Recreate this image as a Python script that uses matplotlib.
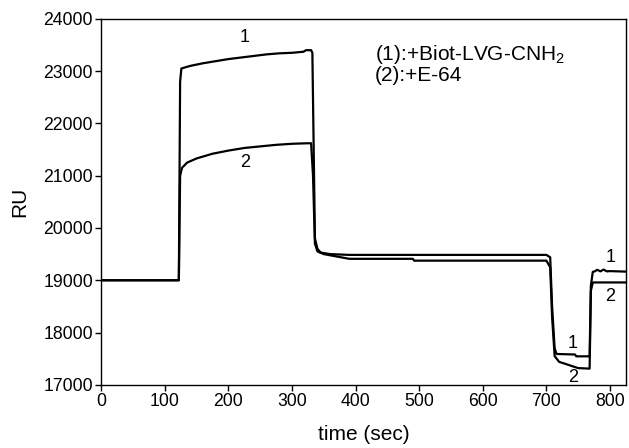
import matplotlib
matplotlib.use('Agg')
import matplotlib.pyplot as plt

plt.rcParams['font.family'] = ['Liberation Sans', 'DejaVu Sans']
plt.rcParams['mathtext.fontset'] = 'custom'
plt.rcParams['mathtext.rm'] = 'Liberation Sans'
plt.rcParams['mathtext.default'] = 'regular'

# Curve 1: +Biot-LVG-CNH2
t1 = [0, 122, 124, 126, 140, 160, 180, 200, 220, 240, 260, 280, 300, 318, 322,
      330, 332, 336, 340, 345, 350, 360, 390, 500, 600, 700, 706, 709, 713, 716,
      745, 747, 768, 770, 773, 776, 780, 785, 790, 795, 800, 825]
ru1 = [19000, 19000, 22800, 23050, 23100, 23150, 23190, 23230, 23260, 23290,
       23320, 23340, 23350, 23370, 23400, 23400, 23350, 19800, 19600, 19530,
       19520, 19500, 19485, 19485, 19485, 19485, 19440, 18500, 17700, 17590,
       17580, 17545, 17545, 18900, 19160, 19170, 19200, 19170, 19205, 19170,
       19175, 19165]

# Curve 2: +E-64
t2 = [0, 122, 124, 127, 135, 150, 175, 200, 225, 250, 275, 300, 325, 330, 333,
      336, 340, 350, 390, 490, 492, 600, 700, 706, 709, 713, 720, 735, 750, 768,
      770, 773, 825]
ru2 = [19000, 19000, 21000, 21150, 21250, 21330, 21420, 21480, 21530, 21560,
       21590, 21610, 21620, 21620, 21000, 19700, 19550, 19500, 19410, 19410,
       19375, 19375, 19375, 19250, 18300, 17550, 17440, 17380, 17320, 17310,
       18800, 18958, 18958]

# curve number labels (x, y, text)
labels = [(226, 23650, '1'), (226, 21250, '2'),
          (742, 17800, '1'), (742, 17140, '2'),
          (801, 19430, '1'), (801, 18690, '2')]

xticks = [0, 100, 200, 300, 400, 500, 600, 700, 800]
yticks = [17000, 18000, 19000, 20000, 21000, 22000, 23000, 24000]

fig = plt.figure(figsize=(6.29, 4.48), dpi=100)
ax = fig.add_axes([0.161, 0.141, 0.834, 0.817])

ax.plot(t1, ru1, color='black', lw=1.6)
ax.plot(t2, ru2, color='black', lw=1.6)

for x, y, s in labels:
    ax.text(x, y, s, fontsize=13, ha='center', va='center')

ax.text(430, 23310, '(1):+Biot-LVG-CNH$_2$', fontsize=15, va='center')
ax.text(430, 22920, '(2):+E-64', fontsize=15, va='center')

ax.set_xlim(0, 825)
ax.set_ylim(17000, 24000)
ax.set_xticks(xticks)
ax.set_yticks(yticks)
ax.tick_params(direction='out', length=4, width=1, labelsize=12.7, pad=2)
ax.set_xlabel('time (sec)', fontsize=15, labelpad=11)
ax.set_ylabel('RU', fontsize=15, labelpad=10)
for sp in ax.spines.values():
    sp.set_linewidth(1.0)

fig.savefig('out.png', dpi=100)
